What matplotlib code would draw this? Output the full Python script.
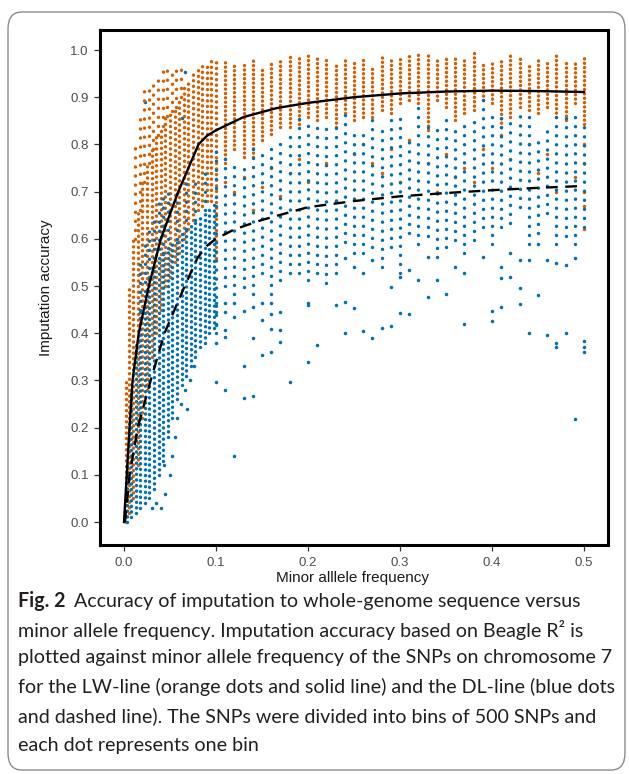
import matplotlib
matplotlib.use("Agg")
import matplotlib.pyplot as plt
from matplotlib.patches import FancyBboxPatch

W, H = 629, 774
ORANGE = "#D55E00"
BLUE = "#0072B2"

# fitted curves
lw_fit_x = [0.0, 0.003, 0.006, 0.0093, 0.016, 0.027, 0.040, 0.059, 0.081, 0.090, 0.100,
            0.130, 0.166, 0.200, 0.250, 0.300, 0.350, 0.400, 0.450, 0.500]
lw_fit_y = [0.0, 0.10, 0.20, 0.30, 0.40, 0.50, 0.60, 0.70, 0.80, 0.818, 0.830,
            0.858, 0.877, 0.888, 0.900, 0.908, 0.912, 0.914, 0.913, 0.911]
dl_fit_x = [0.001, 0.006, 0.015, 0.029, 0.044, 0.066, 0.080, 0.090, 0.100, 0.120, 0.150,
            0.200, 0.250, 0.300, 0.350, 0.400, 0.450, 0.500]
dl_fit_y = [0.0, 0.10, 0.20, 0.30, 0.40, 0.50, 0.56, 0.585, 0.600, 0.620, 0.640,
            0.667, 0.680, 0.690, 0.697, 0.703, 0.708, 0.712]

# low MAF cloud, dense runs of bins per MAF value (x, lowest, highest)
lw_cloud_x = [0.002, 0.005, 0.010, 0.015, 0.020, 0.025, 0.030, 0.035, 0.040, 0.045, 0.050,
              0.055, 0.060, 0.065, 0.070, 0.075, 0.080, 0.085, 0.090, 0.095, 0.100]
lw_cloud_lo = [0.00, 0.02, 0.05, 0.12, 0.22, 0.28, 0.35, 0.40, 0.45, 0.50, 0.52,
               0.55, 0.57, 0.60, 0.62, 0.64, 0.66, 0.67, 0.68, 0.68, 0.56]
lw_cloud_hi = [0.30, 0.50, 0.60, 0.66, 0.72, 0.76, 0.79, 0.82, 0.84, 0.86, 0.87,
               0.88, 0.90, 0.92, 0.93, 0.95, 0.96, 0.97, 0.97, 0.98, 0.98]
# sparser upper fringe of the LW cloud
lw_fringe_x = [0.012, 0.017, 0.022, 0.027, 0.032, 0.037, 0.042, 0.047, 0.052, 0.057, 0.062]
lw_fringe_lo = [0.60, 0.66, 0.72, 0.76, 0.79, 0.82, 0.84, 0.86, 0.87, 0.88, 0.90]
lw_fringe_hi = [0.80, 0.86, 0.92, 0.93, 0.94, 0.95, 0.96, 0.96, 0.96, 0.96, 0.97]

dl_cloud_x = [0.0035, 0.0075, 0.0125, 0.0175, 0.0225, 0.0275, 0.0325, 0.0375, 0.0425, 0.0475,
              0.0525, 0.0575, 0.0625, 0.0675, 0.0725, 0.0775, 0.0825, 0.0875, 0.0925, 0.0975]
dl_cloud_lo = [0.00, 0.01, 0.02, 0.03, 0.04, 0.05, 0.07, 0.10, 0.13, 0.18,
               0.22, 0.26, 0.29, 0.31, 0.33, 0.35, 0.37, 0.38, 0.40, 0.41]
dl_cloud_hi = [0.12, 0.28, 0.38, 0.45, 0.49, 0.52, 0.54, 0.56, 0.57, 0.58,
               0.59, 0.60, 0.61, 0.62, 0.63, 0.64, 0.65, 0.66, 0.67, 0.68]
# sparser upper fringe of the DL cloud
dl_fringe_x = [0.0175, 0.0225, 0.0275, 0.0325, 0.0375, 0.0425, 0.0475, 0.0575,
               0.0675, 0.0775, 0.0875, 0.1000]
dl_fringe_lo = [0.45, 0.49, 0.52, 0.54, 0.56, 0.57, 0.58, 0.60, 0.62, 0.64, 0.66, 0.40]
dl_fringe_hi = [0.55, 0.60, 0.63, 0.65, 0.68, 0.70, 0.71, 0.70, 0.72, 0.73, 0.75, 0.80]

# MAF >= 0.11: one column of bins per MAF value
col_maf = [0.11, 0.12, 0.13, 0.14, 0.15, 0.16, 0.17, 0.18, 0.19, 0.20,
           0.21, 0.22, 0.23, 0.24, 0.25, 0.26, 0.27, 0.28, 0.29, 0.30,
           0.31, 0.32, 0.33, 0.34, 0.35, 0.36, 0.37, 0.38, 0.39, 0.40,
           0.41, 0.42, 0.43, 0.44, 0.45, 0.46, 0.47, 0.48, 0.49, 0.50]
lw_col_hi = [0.979, 0.975, 0.968, 0.982, 0.960, 0.979, 0.979, 0.989, 0.986, 0.989,
             0.986, 0.982, 0.975, 0.979, 0.975, 0.986, 0.968, 0.989, 0.986, 0.989,
             0.989, 0.993, 0.993, 0.982, 0.989, 0.989, 0.982, 0.993, 0.972, 0.975,
             0.982, 0.989, 0.989, 0.972, 0.979, 0.979, 0.989, 0.982, 0.972, 0.989]
lw_col_lo = [0.760, 0.790, 0.774, 0.774, 0.809, 0.823, 0.837, 0.837, 0.844, 0.858,
             0.851, 0.858, 0.837, 0.866, 0.851, 0.858, 0.858, 0.873, 0.866, 0.887,
             0.894, 0.887, 0.830, 0.894, 0.880, 0.851, 0.866, 0.873, 0.894, 0.887,
             0.837, 0.858, 0.880, 0.873, 0.866, 0.880, 0.858, 0.851, 0.887, 0.844]
dl_col_hi = [0.774, 0.760, 0.753, 0.809, 0.788, 0.809, 0.816, 0.816, 0.858, 0.851,
             0.837, 0.844, 0.844, 0.866, 0.830, 0.830, 0.851, 0.837, 0.851, 0.858,
             0.823, 0.894, 0.851, 0.830, 0.866, 0.837, 0.851, 0.858, 0.901, 0.858,
             0.858, 0.858, 0.873, 0.858, 0.816, 0.837, 0.873, 0.866, 0.858, 0.851]
dl_col_lo = [0.500, 0.484, 0.498, 0.484, 0.527, 0.484, 0.513, 0.527, 0.527, 0.513,
             0.527, 0.506, 0.527, 0.594, 0.569, 0.569, 0.583, 0.541, 0.583, 0.527,
             0.612, 0.590, 0.605, 0.562, 0.583, 0.597, 0.569, 0.597, 0.626, 0.590,
             0.626, 0.633, 0.668, 0.590, 0.612, 0.654, 0.590, 0.605, 0.590, 0.626]

# single scattered bins
lw_pts_x = [0.11, 0.12, 0.13, 0.14, 0.15, 0.16, 0.17, 0.18, 0.19, 0.20, 0.22, 0.23,
            0.25, 0.26, 0.27, 0.28, 0.29, 0.30, 0.31, 0.33, 0.34, 0.35, 0.36, 0.37,
            0.38, 0.39, 0.40, 0.41, 0.42, 0.44, 0.45, 0.46, 0.47, 0.49, 0.50, 0.50,
            0.50, 0.50, 0.50]
lw_pts_y = [0.72, 0.70, 0.73, 0.66, 0.71, 0.75, 0.69, 0.74, 0.77, 0.72, 0.76, 0.68,
            0.78, 0.80, 0.76, 0.74, 0.79, 0.72, 0.81, 0.76, 0.70, 0.78, 0.73, 0.75,
            0.72, 0.79, 0.75, 0.82, 0.77, 0.80, 0.74, 0.78, 0.70, 0.73, 0.62, 0.67,
            0.70, 0.76, 0.80]
dl_pts_x = [0.10, 0.11, 0.12, 0.10, 0.11, 0.12, 0.13, 0.14, 0.15, 0.16, 0.15, 0.16,
            0.17, 0.10, 0.11, 0.11, 0.10, 0.14, 0.16, 0.17, 0.17, 0.15, 0.16, 0.13,
            0.10, 0.11, 0.13, 0.14, 0.18, 0.20, 0.21, 0.20, 0.20, 0.23, 0.24, 0.25,
            0.24, 0.26, 0.27, 0.28, 0.29, 0.30, 0.31, 0.37, 0.40, 0.41, 0.40, 0.43,
            0.44, 0.46, 0.47, 0.47, 0.48, 0.50, 0.50, 0.50, 0.49, 0.12,
            0.24, 0.25, 0.26, 0.27, 0.29, 0.30, 0.31, 0.32, 0.33, 0.34, 0.35, 0.36,
            0.37, 0.33, 0.39, 0.41, 0.41, 0.42, 0.42, 0.43, 0.43, 0.44, 0.45, 0.46,
            0.47, 0.48, 0.49, 0.45,
            0.030, 0.035, 0.040, 0.044, 0.045, 0.050, 0.052, 0.055, 0.058, 0.062,
            0.066, 0.068, 0.072, 0.076, 0.023, 0.063, 0.066]
dl_pts_y = [0.465, 0.463, 0.465, 0.446, 0.446, 0.435, 0.447, 0.455, 0.465, 0.465, 0.429, 0.441,
            0.446, 0.417, 0.407, 0.391, 0.380, 0.389, 0.409, 0.407, 0.382, 0.354, 0.361, 0.331,
            0.297, 0.280, 0.262, 0.268, 0.296, 0.340, 0.376, 0.460, 0.465, 0.459, 0.467, 0.453,
            0.400, 0.404, 0.389, 0.410, 0.415, 0.443, 0.441, 0.419, 0.448, 0.456, 0.425, 0.462,
            0.400, 0.397, 0.380, 0.371, 0.400, 0.383, 0.371, 0.361, 0.219, 0.139,
            0.559, 0.541, 0.527, 0.555, 0.498, 0.520, 0.534, 0.513, 0.562, 0.513, 0.484, 0.541,
            0.527, 0.477, 0.562, 0.541, 0.516, 0.569, 0.520, 0.555, 0.495, 0.555, 0.590, 0.555,
            0.548, 0.544, 0.560, 0.480,
            0.03, 0.04, 0.03, 0.12, 0.06, 0.10, 0.14, 0.18, 0.22, 0.25,
            0.28, 0.24, 0.30, 0.33, 0.89, 0.856, 0.954]

x_ticks = [0.0, 0.1, 0.2, 0.3, 0.4, 0.5]
y_ticks = [0.0, 0.1, 0.2, 0.3, 0.4, 0.5, 0.6, 0.7, 0.8, 0.9, 1.0]

caption_lines = [
    "Accuracy of imputation to whole-genome sequence versus",
    "minor allele frequency. Imputation accuracy based on Beagle R\u00b2 is",
    "plotted against minor allele frequency of the SNPs on chromosome 7",
    "for the LW-line (orange dots and solid line) and the DL-line (blue dots",
    "and dashed line). The SNPs were divided into bins of 500 SNPs and",
    "each dot represents one bin",
]


def fx(px):
    return px / W


def fy(py):
    return 1 - py / H


fig = plt.figure(figsize=(W / 100, H / 100), dpi=100)
fig.patch.set_facecolor("white")

frame = FancyBboxPatch((fx(8), fy(770)), fx(617), (770 - 12) / H,
                       boxstyle="round,pad=0,rounding_size=0.022",
                       transform=fig.transFigure, fc="none", ec="#8c8c8c", lw=1.0)
fig.patches.append(frame)

ax = fig.add_axes([fx(100), fy(545), fx(508), (545 - 30) / H])

dense = (0, (0.01, 1.25))
medium = (0, (0.01, 1.6))
sparse = (0, (0.01, 2.6))
kw = dict(linewidth=2.5, capstyle="round")

# LW (orange) first, DL (blue) on top
ax.vlines(lw_cloud_x, lw_cloud_lo, lw_cloud_hi, colors=ORANGE, linestyles=[medium], **kw)
ax.vlines(lw_fringe_x, lw_fringe_lo, lw_fringe_hi, colors=ORANGE, linestyles=[sparse], **kw)
ax.vlines(col_maf, lw_col_lo, lw_col_hi, colors=ORANGE, linestyles=[dense], **kw)
ax.scatter(lw_pts_x, lw_pts_y, s=6.5, c=ORANGE, linewidths=0)

ax.vlines(dl_cloud_x, dl_cloud_lo, dl_cloud_hi, colors=BLUE, linestyles=[medium], **kw)
ax.vlines(dl_fringe_x, dl_fringe_lo, dl_fringe_hi, colors=BLUE, linestyles=[sparse], **kw)
ax.vlines(col_maf, dl_col_lo, dl_col_hi, colors=BLUE, linestyles=[sparse], **kw)
ax.scatter(dl_pts_x, dl_pts_y, s=6.5, c=BLUE, linewidths=0)

ax.plot(lw_fit_x, lw_fit_y, color="black", lw=1.7, solid_joinstyle="round")
ax.plot(dl_fit_x, dl_fit_y, color="black", lw=1.7, dashes=(5, 3.2))

ax.set_xlim(-0.0261, 0.5261)
ax.set_ylim(-0.0487, 1.0424)
ax.set_xticks(x_ticks)
ax.set_xticklabels([f"{v:.1f}" for v in x_ticks])
ax.set_yticks(y_ticks)
ax.set_yticklabels([f"{v:.1f}" for v in y_ticks])
for s in ax.spines.values():
    s.set_linewidth(2.2)
    s.set_color("black")
ax.tick_params(direction="out", length=4, width=0.9, color="#333333",
               labelcolor="#4d4d4d", labelsize=9.5)
ax.tick_params(axis="x", pad=5)
ax.tick_params(axis="y", pad=4)
for lab in ax.get_xticklabels() + ax.get_yticklabels():
    lab.set_family("Liberation Sans")

ax.set_xlabel("Minor alllele frequency", fontsize=11, family="Liberation Sans", color="#1a1a1a")
ax.set_ylabel("Imputation accuracy", fontsize=11, family="Liberation Sans", color="#1a1a1a")
ax.xaxis.set_label_coords((353 - 100) / 508, (545 - 571) / 515)
ax.yaxis.set_label_coords((53 - 100) / 508, 0.5)

# caption
cap_font = "Lato"
cap_size = 14.1
line_y = [601, 630, 658, 687, 716, 745]
fig.canvas.draw()
tb = fig.text(fx(18), fy(line_y[0]), "Fig. 2", family=cap_font, weight="bold",
              fontsize=cap_size, va="center", ha="left", color="#231f20")
fig.canvas.draw()
bb = tb.get_window_extent()
fig.text((bb.x1 + 9) / W, fy(line_y[0]), caption_lines[0], family=cap_font,
         fontsize=cap_size, va="center", ha="left", color="#231f20")
for txt, py in zip(caption_lines[1:], line_y[1:]):
    fig.text(fx(18), fy(py), txt, family=cap_font, fontsize=cap_size,
             va="center", ha="left", color="#231f20")

fig.savefig("out.png", dpi=100, facecolor="white")
